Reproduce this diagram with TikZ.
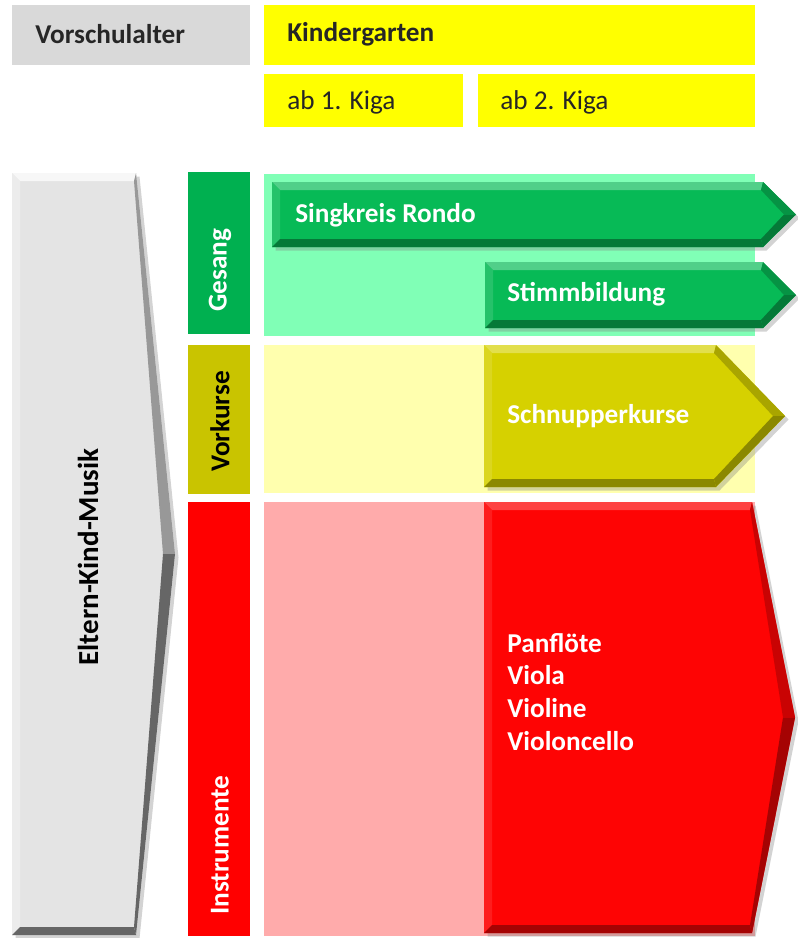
\documentclass[tikz,border=0pt]{standalone}
\usepackage{fontspec}
\setmainfont{Carlito}
\usetikzlibrary{shadows}

\definecolor{hdgrey}{HTML}{D9D9D9}
\definecolor{hdyellow}{HTML}{FFFF00}
\definecolor{hdtext}{HTML}{262626}
\definecolor{gesangbar}{HTML}{00B050}
\definecolor{vorkbar}{HTML}{C9C400}
\definecolor{instrbar}{HTML}{FF0000}
\definecolor{gesangbg}{HTML}{80FFB6}
\definecolor{vorkbg}{HTML}{FFFFAE}
\definecolor{instrbg}{HTML}{FFABAB}
\definecolor{greyarrow}{HTML}{E4E4E4}
\definecolor{greenarrow}{HTML}{07BA56}
\definecolor{olivearrow}{HTML}{D6D100}
\definecolor{redarrow}{HTML}{FE0404}

% bevelled arrow: #1 base, #2 light, #3 dark, (#4,#5) top left, #6 head start, #7 tip, #8 bottom
\newcommand\bevelarrow[8]{%
  \colorlet{bvbase}{#1}\colorlet{bvlight}{#2}\colorlet{bvdark}{#3}%
  \pgfmathsetmacro\ym{(#5+#8)/2}%
  \pgfmathsetmacro\ia{#4+8}\pgfmathsetmacro\ib{#5+8}%
  \pgfmathsetmacro\ic{#6-2}\pgfmathsetmacro\id{#8-8}%
  \pgfmathsetmacro\it{#7-12}%
  \fill[bvbase, drop shadow={shadow xshift=2pt, shadow yshift=-2pt, opacity=.35}]
    (#4,#5) -- (#6,#5) -- (#7,\ym) -- (#6,#8) -- (#4,#8) -- cycle;
  \fill[bvlight] (#4,#5) -- (#6,#5) -- (\ic,\ib) -- (\ia,\ib) -- cycle;
  \fill[bvlight!40!bvbase] (#4,#5) -- (\ia,\ib) -- (\ia,\id) -- (#4,#8) -- cycle;
  \fill[bvdark] (#4,#8) -- (\ia,\id) -- (\ic,\id) -- (#6,#8) -- cycle;
  \fill[bvdark!60!bvbase] (#6,#5) -- (#7,\ym) -- (\it,\ym) -- (\ic,\ib) -- cycle;
  \fill[bvdark] (#6,#8) -- (#7,\ym) -- (\it,\ym) -- (\ic,\id) -- cycle;
}

\begin{document}
\begin{tikzpicture}[x=0.02cm, y=-0.02cm,
    every node/.style={inner sep=0pt, font=\fontsize{15.5}{18.7}\selectfont},
    hdlabel/.style={anchor=west, text=hdtext},
    barlabel/.style={rotate=90, anchor=west, font=\fontsize{15.5}{18.7}\selectfont\bfseries},
    arrowlabel/.style={anchor=west, text=white, font=\fontsize{15.5}{18.7}\selectfont\bfseries}]
  \useasboundingbox (0,0) rectangle (798,938);

  %%%%% header %%%%%
  \fill[hdgrey] (12,5) rectangle (250,65);
  \fill[hdyellow] (264,5) rectangle (755,65);
  \fill[hdyellow] (264,74) rectangle (463,127);
  \fill[hdyellow] (478,74) rectangle (755,127);
  \node[hdlabel, font=\fontsize{15.5}{18.7}\selectfont\bfseries] (vorschul) at (35,34) {Vorschulalter};
  \node[hdlabel, font=\fontsize{15.5}{18.7}\selectfont\bfseries] (kiga) at (287,34) {Kindergarten};
  \node[hdlabel] (kigaone) at (287,102) {ab 1. Kiga};
  \node[hdlabel] (kigatwo) at (500,102) {ab 2. Kiga};

  %%%%% big grey arrow %%%%%
  \bevelarrow{greyarrow}{white!97!black}{black!60}{12}{173}{136}{175}{935}
  \node[rotate=90, font=\fontsize{16.5}{20}\selectfont\bfseries] (ekm) at (88,557) {Eltern-Kind-Musik};

  %%%%% category bars %%%%%
  \fill[gesangbar] (188,172) rectangle (250,334);
  \fill[vorkbar] (188,345) rectangle (250,494);
  \fill[instrbar] (188,502) rectangle (250,936);
  \node[barlabel, text=white] (gesang) at (220,312) {Gesang};
  \node[barlabel, text=black] (vorkurse) at (220,472) {Vorkurse};
  \node[barlabel, text=white] (instr) at (220,915) {Instrumente};

  %%%%% background panels %%%%%
  \fill[gesangbg] (264,174) rectangle (755,336);
  \fill[vorkbg] (264,345) rectangle (755,493);
  \fill[instrbg] (264,502) rectangle (755,936);

  %%%%% arrows %%%%%
  \bevelarrow{greenarrow}{greenarrow!70!white}{greenarrow!65!black}{272}{182}{763}{796}{247}
  \bevelarrow{greenarrow}{greenarrow!70!white}{greenarrow!65!black}{485}{262}{763}{796}{328}
  \bevelarrow{olivearrow}{olivearrow!70!white}{olivearrow!65!black}{484}{345}{716}{785}{487}
  \bevelarrow{redarrow}{redarrow!75!white}{redarrow!65!black}{484}{502}{752}{795}{933}

  \node[arrowlabel] (singkreis) at (295,215) {Singkreis Rondo};
  \node[arrowlabel] (stimm) at (507,294) {Stimmbildung};
  \node[arrowlabel] (schnupper) at (507,416) {Schnupperkurse};
  \node[arrowlabel, align=left] (instrlist) at (507,692) {Panflöte\\Viola\\Violine\\Violoncello};
\end{tikzpicture}
\end{document}
